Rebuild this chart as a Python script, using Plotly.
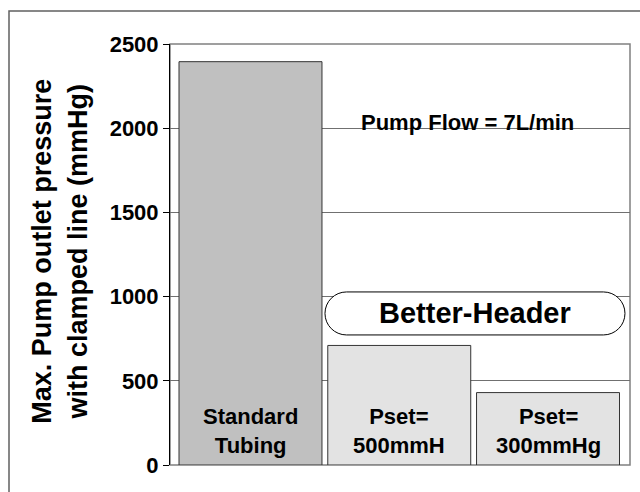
import plotly.graph_objects as go

categories = ['Standard Tubing', 'Pset=500mmH', 'Pset=300mmHg']
bar_labels = ['Standard<br>Tubing', 'Pset=<br>500mmH', 'Pset=<br>300mmHg']
max_pressure = [2395, 710, 430]
bar_colors = ['#c0c0c0', '#e3e3e3', '#e3e3e3']
y_ticks = [0, 500, 1000, 1500, 2000, 2500]

FONT = 'Liberation Sans, Arial, sans-serif'

fig = go.Figure(go.Bar(
    x=categories,
    y=max_pressure,
    width=0.961,
    marker=dict(color=bar_colors, line=dict(color='#333333', width=1)),
    hoverinfo='skip',
))

# labels sit at the foot of each bar
for cat, label in zip(categories, bar_labels):
    fig.add_annotation(x=cat, y=0, text=label, showarrow=False,
                       yanchor='bottom', yshift=5,
                       font=dict(size=22, weight='bold'))

# rounded "Better-Header" box, path in pixels around its centre
w, h, r = 150, 21.5, 21.5
k = 0.552 * r
rounded = (f'M {-w + r},{-h} L {w - r},{-h} '
           f'C {w - r + k},{-h} {w},{-k} {w},0 '
           f'C {w},{k} {w - r + k},{h} {w - r},{h} '
           f'L {-w + r},{h} '
           f'C {-w + r - k},{h} {-w},{k} {-w},0 '
           f'C {-w},{-k} {-w + r - k},{-h} {-w + r},{-h} Z')

fig.update_layout(
    width=640, height=492,
    paper_bgcolor='white', plot_bgcolor='white',
    margin=dict(l=170, r=10, t=44, b=27),
    showlegend=False,
    bargap=0.04,
    font=dict(family=FONT, color='black'),
    xaxis=dict(range=[-0.541, 2.551], showticklabels=False, showgrid=False,
               zeroline=False, showline=False, fixedrange=True),
    yaxis=dict(range=[0, 2500], tickvals=y_ticks, showgrid=True,
               gridcolor='#707070', gridwidth=1, zeroline=False,
               showline=True, linecolor='black', linewidth=1,
               ticks='outside', ticklen=6, tickcolor='black',
               tickfont=dict(family=FONT, size=22, weight='bold'),
               fixedrange=True),
    shapes=[
        dict(type='rect', xref='paper', yref='paper', x0=0, x1=1, y0=0, y1=1,
             line=dict(color='#808080', width=1.5), layer='below'),
        dict(type='rect', xref='paper', yref='paper', x0=-0.35, x1=1.1,
             y0=-0.2, y1=1.0784, line=dict(color='#606060', width=1.5)),
        dict(type='path', xref='paper', yref='paper',
             xsizemode='pixel', ysizemode='pixel',
             xanchor=0.663, yanchor=0.36, path=rounded,
             fillcolor='white', line=dict(color='black', width=1)),
    ],
)

fig.add_annotation(text='Max. Pump outlet pressure<br>with clamped line (mmHg)',
                   xref='paper', yref='paper', x=-0.24, y=0.508, textangle=-90,
                   showarrow=False, xanchor='center', yanchor='middle',
                   font=dict(size=27, weight='bold'))
fig.add_annotation(text='Pump Flow = 7L/min', xref='paper', yref='paper',
                   x=0.646, y=0.848, showarrow=False,
                   font=dict(size=22, weight='bold'))
fig.add_annotation(text='Better-Header', xref='paper', yref='paper',
                   x=0.663, y=0.36, showarrow=False,
                   font=dict(size=29, weight='bold'))

fig.write_html('out.html', config=dict(displayModeBar=False),
               post_script="document.body.style.margin='0';")
